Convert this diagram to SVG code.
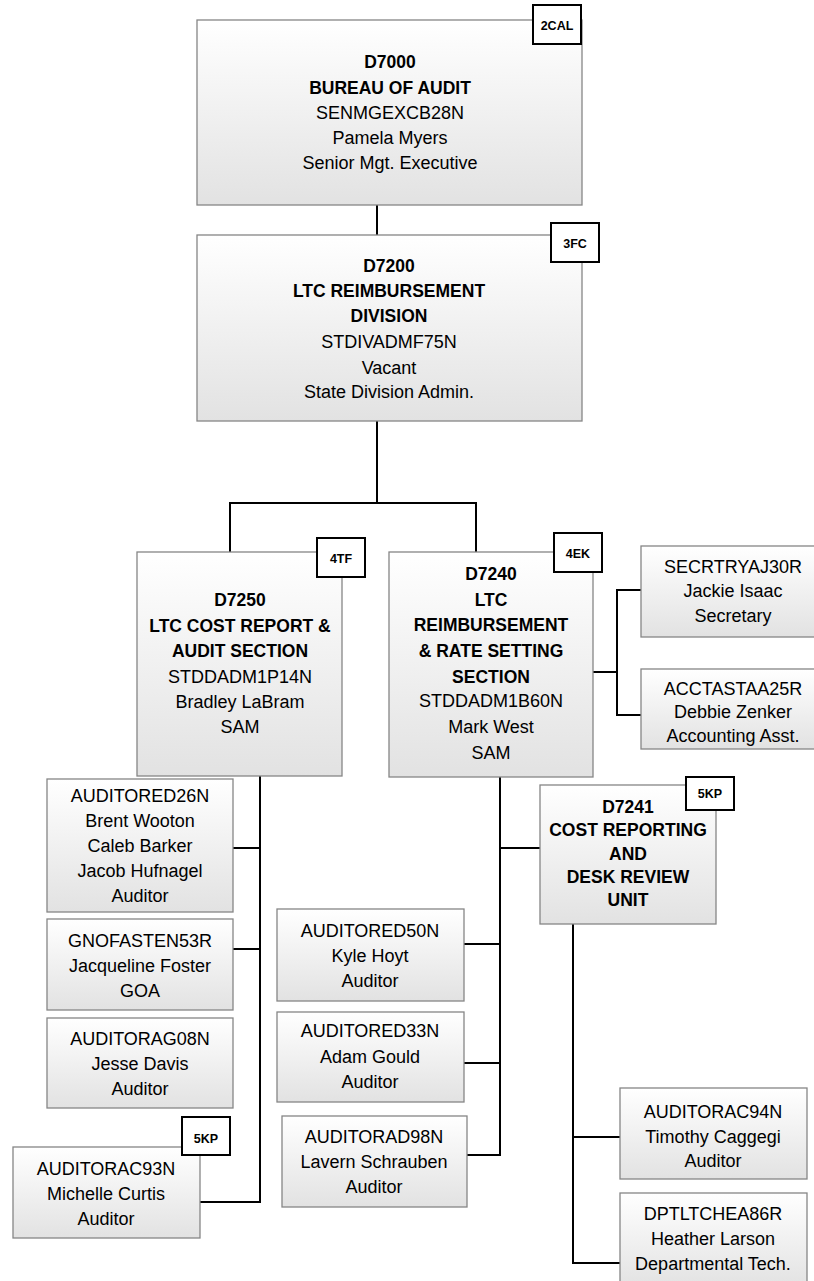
<svg xmlns="http://www.w3.org/2000/svg" width="814" height="1281" viewBox="0 0 814 1281">
<defs>
<linearGradient id="g" x1="0" y1="0" x2="0" y2="1">
<stop offset="0" stop-color="#ffffff"/>
<stop offset="1" stop-color="#e2e2e2"/>
</linearGradient>
</defs>
<style>
.box{fill:url(#g);stroke:#868686;stroke-width:1.3}
.badge{fill:#fff;stroke:#000;stroke-width:2}
text{font-family:"Liberation Sans",Arial,sans-serif;font-size:18px;text-anchor:middle;fill:#000}
.b{font-weight:bold;font-size:17.5px}
.bt{font-weight:bold;font-size:12.5px}
.conn{stroke:#000;stroke-width:2;fill:none}
</style>
<rect width="814" height="1281" fill="#fff"/>
<g id="connectors">
<path class="conn" d="M377 205V235"/>
<path class="conn" d="M377 421V503M230 552V503H476V552"/>
<path class="conn" d="M593 672H617M641 590H617V715H641"/>
<path class="conn" d="M260 776V1202H200M233 848H260M233 949H260"/>
<path class="conn" d="M500 777V1155H467M500 848H540M464 944H500M464 1063H500"/>
<path class="conn" d="M573 924V1263H620M573 1137H620"/>
</g>
<g id="d7000">
<rect class="box" x="197" y="20" width="385" height="185"/>
<text class="b" x="390" y="68">D7000</text>
<text class="b" x="390" y="94">BUREAU OF AUDIT</text>
<text x="390" y="119">SENMGEXCB28N</text>
<text x="390" y="144">Pamela Myers</text>
<text x="390" y="169">Senior Mgt. Executive</text>
<rect class="badge" x="533" y="5" width="48" height="39"/>
<text class="bt" x="557" y="30">2CAL</text>
</g>
<g id="d7200">
<rect class="box" x="197" y="235" width="385" height="186"/>
<text class="b" x="389" y="272">D7200</text>
<text class="b" x="389" y="297">LTC REIMBURSEMENT</text>
<text class="b" x="389" y="322">DIVISION</text>
<text x="389" y="348">STDIVADMF75N</text>
<text x="389" y="374">Vacant</text>
<text x="389" y="398">State Division Admin.</text>
<rect class="badge" x="551" y="223" width="48" height="39"/>
<text class="bt" x="575" y="248">3FC</text>
</g>
<g id="d7250">
<rect class="box" x="137" y="552" width="205" height="224"/>
<text class="b" x="240" y="606">D7250</text>
<text class="b" x="240" y="632">LTC COST REPORT &amp;</text>
<text class="b" x="240" y="657">AUDIT SECTION</text>
<text x="240" y="683">STDDADM1P14N</text>
<text x="240" y="708">Bradley LaBram</text>
<text x="240" y="733">SAM</text>
<rect class="badge" x="317" y="538" width="48" height="39"/>
<text class="bt" x="341" y="563">4TF</text>
</g>
<g id="d7240">
<rect class="box" x="389" y="552" width="204" height="225"/>
<text class="b" x="491" y="580">D7240</text>
<text class="b" x="491" y="606">LTC</text>
<text class="b" x="491" y="631">REIMBURSEMENT</text>
<text class="b" x="491" y="657">&amp; RATE SETTING</text>
<text class="b" x="491" y="683">SECTION</text>
<text x="491" y="707">STDDADM1B60N</text>
<text x="491" y="733">Mark West</text>
<text x="491" y="759">SAM</text>
<rect class="badge" x="554" y="533" width="48" height="39"/>
<text class="bt" x="578" y="558">4EK</text>
</g>
<g id="secrtryaj30r">
<rect class="box" x="641" y="546" width="184" height="91"/>
<text x="733" y="573">SECRTRYAJ30R</text>
<text x="733" y="597">Jackie Isaac</text>
<text x="733" y="622">Secretary</text>
</g>
<g id="acctastaa25r">
<rect class="box" x="641" y="669" width="184" height="80"/>
<text x="733" y="695">ACCTASTAA25R</text>
<text x="733" y="718">Debbie Zenker</text>
<text x="733" y="742">Accounting Asst.</text>
</g>
<g id="d7241">
<rect class="box" x="540" y="785" width="176" height="139"/>
<text class="b" x="628" y="813">D7241</text>
<text class="b" x="628" y="836">COST REPORTING</text>
<text class="b" x="628" y="860">AND</text>
<text class="b" x="628" y="883">DESK REVIEW</text>
<text class="b" x="628" y="906">UNIT</text>
<rect class="badge" x="686" y="777" width="48" height="33"/>
<text class="bt" x="710" y="798">5KP</text>
</g>
<g id="auditored26n">
<rect class="box" x="47" y="779" width="186" height="133"/>
<text x="140" y="802">AUDITORED26N</text>
<text x="140" y="827">Brent Wooton</text>
<text x="140" y="852">Caleb Barker</text>
<text x="140" y="877">Jacob Hufnagel</text>
<text x="140" y="902">Auditor</text>
</g>
<g id="gnofasten53r">
<rect class="box" x="47" y="919" width="186" height="91"/>
<text x="140" y="947">GNOFASTEN53R</text>
<text x="140" y="972">Jacqueline Foster</text>
<text x="140" y="997">GOA</text>
</g>
<g id="auditorag08n">
<rect class="box" x="47" y="1018" width="186" height="90"/>
<text x="140" y="1045">AUDITORAG08N</text>
<text x="140" y="1070">Jesse Davis</text>
<text x="140" y="1095">Auditor</text>
</g>
<g id="auditorac93n">
<rect class="box" x="13" y="1147" width="187" height="91"/>
<text x="106" y="1175">AUDITORAC93N</text>
<text x="106" y="1200">Michelle Curtis</text>
<text x="106" y="1225">Auditor</text>
<rect class="badge" x="182" y="1117" width="48" height="38"/>
<text class="bt" x="206" y="1143">5KP</text>
</g>
<g id="auditored50n">
<rect class="box" x="277" y="909" width="187" height="92"/>
<text x="370" y="937">AUDITORED50N</text>
<text x="370" y="962">Kyle Hoyt</text>
<text x="370" y="987">Auditor</text>
</g>
<g id="auditored33n">
<rect class="box" x="277" y="1012" width="187" height="90"/>
<text x="370" y="1037">AUDITORED33N</text>
<text x="370" y="1063">Adam Gould</text>
<text x="370" y="1088">Auditor</text>
</g>
<g id="auditorad98n">
<rect class="box" x="282" y="1116" width="185" height="91"/>
<text x="374" y="1143">AUDITORAD98N</text>
<text x="374" y="1168">Lavern Schrauben</text>
<text x="374" y="1193">Auditor</text>
</g>
<g id="auditorac94n">
<rect class="box" x="620" y="1088" width="187" height="91"/>
<text x="713" y="1118">AUDITORAC94N</text>
<text x="713" y="1143">Timothy Caggegi</text>
<text x="713" y="1167">Auditor</text>
</g>
<g id="dptltchea86r">
<rect class="box" x="620" y="1193" width="187" height="95"/>
<text x="713" y="1220">DPTLTCHEA86R</text>
<text x="713" y="1245">Heather Larson</text>
<text x="713" y="1270">Departmental Tech.</text>
</g>
</svg>
